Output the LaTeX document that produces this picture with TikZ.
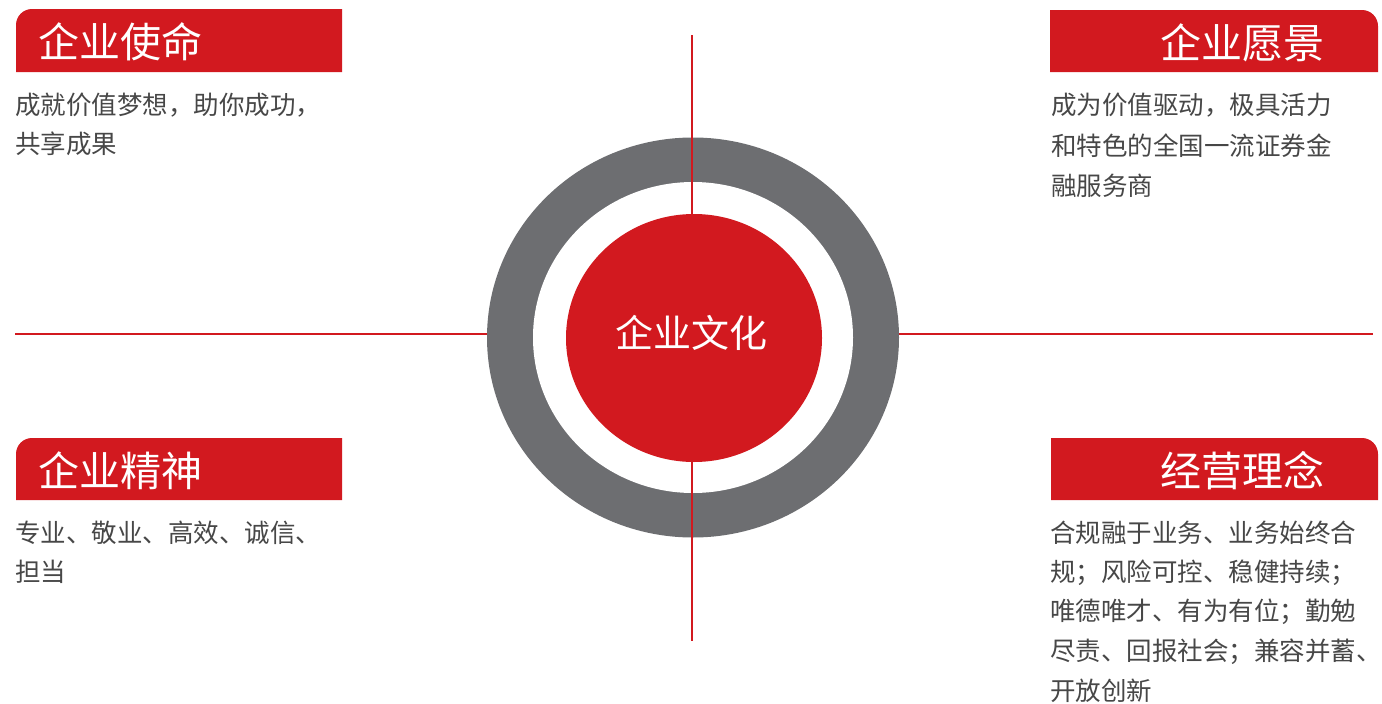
\documentclass[tikz,border=0pt]{standalone}
\usepackage{fontspec}
\newfontfamily\cjk{Noto Sans CJK SC}
\definecolor{cred}{HTML}{D2191F}
\definecolor{cgray}{HTML}{6D6E71}
\definecolor{ctext}{HTML}{474747}
\begin{document}
\begin{tikzpicture}[x=1pt,y=-1pt,
  titletext/.style={text=white, font=\cjk\fontsize{41}{41}\selectfont, inner sep=0pt, anchor=west},
  bodytext/.style={text=ctext, font=\cjk\fontsize{25.5}{25.5}\selectfont, inner sep=0pt, anchor=west},
  axisline/.style={draw=cred, line width=2pt}]
\useasboundingbox (0,0) rectangle (1382,704);
% axes
\coordinate (hl) at (15,334);
\coordinate (hr) at (1373,334);
\coordinate (vt) at (692,35);
\coordinate (vb) at (692,641);
\draw[axisline] (hl) -- (hr);
% rings
\fill[cgray] (693,337.5) ellipse[x radius=206, y radius=200];
\fill[white] (693,337.5) ellipse[x radius=160, y radius=155.5];
\draw[axisline] (vt) -- (vb);
\fill[cred] (694,338) ellipse[x radius=128, y radius=124];
\node[text=white, font=\cjk\fontsize{38}{38}\selectfont, inner sep=0pt] (core) at (691,333) {企业文化};
% header bars
\fill[cred] (16,72) -- (16,25) arc[start angle=180, end angle=270, radius=16] -- (342,9) -- (342,72) -- cycle;
\fill[cred] (1050,72) -- (1050,10) -- (1362,10) arc[start angle=270, end angle=360, radius=16] -- (1378,72) -- cycle;
\fill[cred] (16,500) -- (16,454) arc[start angle=180, end angle=270, radius=16] -- (342,438) -- (342,500) -- cycle;
\fill[cred] (1051,500) -- (1051,438) -- (1362,438) arc[start angle=270, end angle=360, radius=16] -- (1378,454) -- (1378,500) -- cycle;
% titles
\node[titletext] (t1) at (38,42) {企业使命};
\node[titletext] (t2) at (1160,43) {企业愿景};
\node[titletext] (t3) at (38,471) {企业精神};
\node[titletext] (t4) at (1160,471) {经营理念};
% bodies
\node[bodytext] (a1) at (15,105) {成就价值梦想，助你成功，};
\node[bodytext] (a2) at (15,144) {共享成果};
\node[bodytext] (b1) at (1051,105) {成为价值驱动，极具活力};
\node[bodytext] (b2) at (1051,146) {和特色的全国一流证券金};
\node[bodytext] (b3) at (1051,186) {融服务商};
\node[bodytext] (c1) at (15,533) {专业、敬业、高效、诚信、};
\node[bodytext] (c2) at (15,572) {担当};
\node[bodytext] (d1) at (1050,533) {合规融于业务、业务始终合};
\node[bodytext] (d2) at (1050,573) {规；风险可控、稳健持续；};
\node[bodytext] (d3) at (1050,612) {唯德唯才、有为有位；勤勉};
\node[bodytext] (d4) at (1050,652) {尽责、回报社会；兼容并蓄、};
\node[bodytext] (d5) at (1050,691) {开放创新};
\end{tikzpicture}
\end{document}
